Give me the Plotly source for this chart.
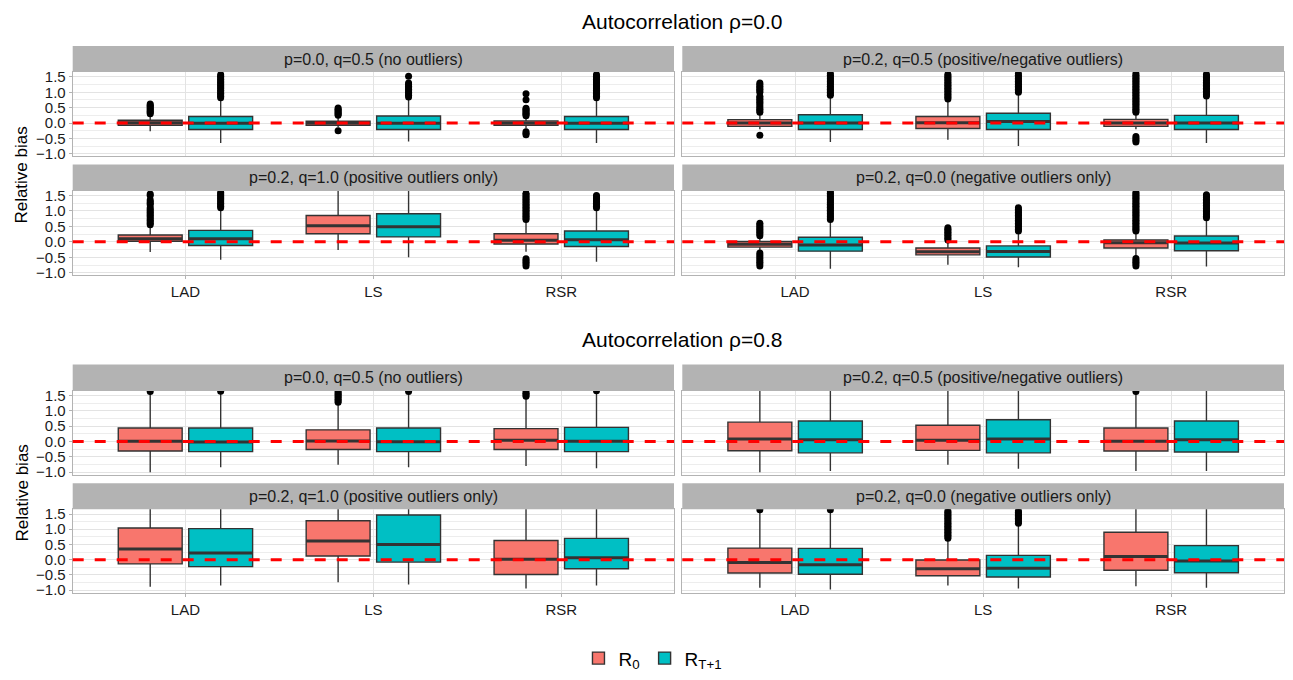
import plotly.graph_objects as go

# ---------------- data ----------------
methods = ["LAD", "LS", "RSR"]
group_titles = ["Autocorrelation ρ=0.0", "Autocorrelation ρ=0.8"]
panel_titles = ["p=0.0, q=0.5 (no outliers)",
                "p=0.2, q=0.5 (positive/negative outliers)",
                "p=0.2, q=1.0 (positive outliers only)",
                "p=0.2, q=0.0 (negative outliers only)"]
series_names = ["R<sub>0</sub>", "R<sub>T+1</sub>"]
series_colors = ["#F8766D", "#00BFC4"]
y_tick_vals = [-1.0, -0.5, 0.0, 0.5, 1.0, 1.5]
y_tick_text = ["\u22121.0", "\u22120.5", "0.0", "0.5", "1.0", "1.5"]

# rows: facets (rho=0.0: TL, TR, BL, BR; rho=0.8: TL, TR, BL, BR); cols: LAD, LS, RSR
r0_lower = [[-0.27, -0.14, -0.18], [-0.20, -0.54, -0.20], [-0.33, -0.26, -0.32], [-0.27, -0.74, -0.48],
            [-1.00, -0.76, -0.80], [-1.00, -0.76, -0.96], [-0.89, -0.74, -0.95], [-0.92, -0.85, -0.87]]
r0_q1 = [[-0.07, -0.07, -0.07], [-0.11, -0.18, -0.11], [0.02, 0.26, -0.07], [-0.17, -0.42, -0.20],
         [-0.31, -0.26, -0.26], [-0.30, -0.29, -0.31], [-0.14, 0.12, -0.49], [-0.44, -0.53, -0.35]]
r0_median = [[0.01, 0.00, 0.00], [0.00, 0.01, 0.00], [0.10, 0.52, 0.05], [-0.08, -0.32, -0.03],
             [0.01, 0.02, 0.04], [0.08, 0.04, 0.01], [0.35, 0.61, 0.01], [-0.09, -0.30, 0.10]]
r0_q3 = [[0.09, 0.06, 0.07], [0.11, 0.21, 0.12], [0.22, 0.85, 0.26], [0.01, -0.20, 0.06],
         [0.44, 0.38, 0.42], [0.63, 0.53, 0.44], [1.04, 1.28, 0.63], [0.38, -0.01, 0.90]]
r0_upper = [[0.22, 0.22, 0.20], [0.32, 0.75, 0.32], [0.52, 1.80, 0.70], [0.17, 0.02, 0.33],
            [1.55, 1.25, 1.45], [1.80, 1.80, 1.55], [1.80, 1.80, 1.80], [1.55, 0.69, 1.80]]

rt_lower = [[-0.65, -0.60, -0.65], [-0.62, -0.75, -0.65], [-0.58, -0.50, -0.64], [-0.87, -0.82, -0.80],
            [-0.84, -0.84, -0.87], [-0.96, -0.89, -0.96], [-0.85, -0.82, -0.85], [-0.98, -0.95, -0.92]]
rt_q1 = [[-0.21, -0.21, -0.21], [-0.21, -0.21, -0.21], [-0.12, 0.16, -0.15], [-0.30, -0.49, -0.29],
         [-0.33, -0.33, -0.33], [-0.37, -0.37, -0.34], [-0.23, -0.08, -0.30], [-0.48, -0.57, -0.43]]
rt_median = [[-0.01, -0.01, -0.01], [0.00, 0.05, 0.00], [0.10, 0.49, 0.07], [-0.10, -0.31, -0.04],
             [-0.02, -0.01, 0.01], [0.06, 0.08, 0.06], [0.22, 0.50, 0.06], [-0.17, -0.28, -0.04]]
rt_q3 = [[0.21, 0.23, 0.21], [0.27, 0.32, 0.25], [0.37, 0.91, 0.35], [0.15, -0.13, 0.19],
         [0.44, 0.44, 0.46], [0.67, 0.71, 0.67], [1.02, 1.47, 0.70], [0.37, 0.14, 0.46]]
rt_upper = [[0.80, 0.80, 0.80], [0.88, 0.98, 0.85], [1.05, 1.80, 1.05], [0.70, 0.33, 0.76],
            [1.60, 1.60, 1.60], [1.80, 1.80, 1.80], [1.80, 1.80, 1.80], [1.60, 1.17, 1.80]]

r0_outliers = [
    [[0.30, 0.34, 0.38, 0.42, 0.46, 0.50, 0.54, 0.58, 0.62],
     [-0.25, 0.25, 0.29, 0.33, 0.37, 0.41, 0.45, 0.49],
     [-0.38, -0.33, -0.28, 0.24, 0.28, 0.32, 0.36, 0.40, 0.44, 0.48, 0.76, 0.95]],
    [[-0.40, 0.35, 0.40, 0.45, 0.50, 0.55, 0.62, 0.67, 0.72, 0.77, 0.82, 0.87, 1.00, 1.05, 1.10, 1.15,
      1.20, 1.25, 1.30],
     [0.78, 0.83, 0.88, 0.93, 0.98, 1.03, 1.08, 1.13, 1.18, 1.23, 1.28, 1.33, 1.38, 1.43, 1.48, 1.53, 1.58],
     [-0.62, -0.56, -0.50, -0.44, 0.35, 0.40, 0.45, 0.50, 0.55, 0.60, 0.65, 0.70, 0.75, 0.80, 0.85, 0.90,
      0.95, 1.00, 1.05, 1.10, 1.15, 1.20, 1.25, 1.30, 1.35, 1.40, 1.45, 1.50, 1.55, 1.60]],
    [[0.55, 0.60, 0.65, 0.70, 0.75, 0.80, 0.85, 0.90, 0.95, 1.00, 1.05, 1.10, 1.20, 1.25, 1.30, 1.35,
      1.50, 1.55],
     [],
     [-0.78, -0.72, -0.66, -0.60, -0.55, 0.72, 0.77, 0.82, 0.87, 0.92, 0.97, 1.02, 1.07, 1.12, 1.17, 1.22,
      1.27, 1.32, 1.37, 1.42, 1.47, 1.52, 1.57]],
    [[-0.78, -0.72, -0.66, -0.60, -0.54, -0.48, -0.42, -0.36, 0.20, 0.25, 0.30, 0.35, 0.40, 0.45, 0.50,
      0.55, 0.60],
     [0.06, 0.11, 0.16, 0.21, 0.26, 0.31, 0.36, 0.41, 0.46],
     [-0.78, -0.72, -0.66, -0.60, -0.54, 0.35, 0.40, 0.45, 0.50, 0.55, 0.60, 0.65, 0.70, 0.75, 0.80, 0.85,
      0.90, 0.95, 1.00, 1.05, 1.10, 1.15, 1.20, 1.25, 1.30, 1.35, 1.40, 1.45, 1.50, 1.55, 1.60]],
    [[1.63],
     [1.28, 1.33, 1.38, 1.43, 1.48, 1.53, 1.58, 1.63],
     [1.47, 1.52, 1.57, 1.62]],
    [[], [], [1.63]],
    [[], [], []],
    [[1.64],
     [0.70, 0.75, 0.80, 0.85, 0.90, 0.95, 1.00, 1.05, 1.10, 1.15, 1.20, 1.25, 1.30, 1.35, 1.40, 1.45,
      1.50, 1.55, 1.60],
     []],
]
rt_outliers = [
    [[0.82, 0.87, 0.92, 0.97, 1.02, 1.07, 1.12, 1.17, 1.22, 1.27, 1.32, 1.37, 1.42, 1.47, 1.52, 1.57],
     [0.85, 0.90, 0.95, 1.00, 1.05, 1.10, 1.15, 1.20, 1.25, 1.30, 1.52],
     [0.82, 0.87, 0.92, 0.97, 1.02, 1.07, 1.12, 1.17, 1.22, 1.27, 1.32, 1.37, 1.42, 1.47, 1.52, 1.57]],
    [[0.90, 0.95, 1.00, 1.05, 1.10, 1.15, 1.20, 1.25, 1.30, 1.35, 1.40, 1.45, 1.50, 1.55, 1.60],
     [1.00, 1.05, 1.10, 1.15, 1.20, 1.25, 1.30, 1.35, 1.40, 1.45, 1.50, 1.55, 1.60],
     [0.88, 0.93, 0.98, 1.03, 1.08, 1.13, 1.18, 1.23, 1.28, 1.33, 1.38, 1.43, 1.48, 1.53, 1.58]],
    [[1.10, 1.15, 1.20, 1.25, 1.30, 1.35, 1.40, 1.45, 1.50, 1.55, 1.60],
     [],
     [1.10, 1.15, 1.20, 1.25, 1.30, 1.35, 1.40, 1.45, 1.50]],
    [[0.72, 0.77, 0.82, 0.87, 0.92, 0.97, 1.02, 1.07, 1.12, 1.17, 1.22, 1.27, 1.32, 1.37, 1.42, 1.47,
      1.52, 1.57, 1.62],
     [0.35, 0.40, 0.45, 0.50, 0.55, 0.60, 0.65, 0.70, 0.75, 0.80, 0.85, 0.90, 0.95, 1.00, 1.05, 1.10],
     [0.78, 0.83, 0.88, 0.93, 0.98, 1.03, 1.08, 1.13, 1.18, 1.23, 1.28, 1.33, 1.38, 1.43, 1.48, 1.52]],
    [[1.64], [1.63], [1.65]],
    [[], [], []],
    [[], [], []],
    [[1.64],
     [1.20, 1.25, 1.30, 1.35, 1.40, 1.45, 1.50, 1.55, 1.60],
     []],
]

# ---------------- layout geometry (pixels) ----------------
W, H = 1293, 680
col_px = [(72.7, 674.0), (682.3, 1284.0)]
row_plot_px = [(69.0, 154.5), (189.3, 275.3), (392.3, 477.7), (512.7, 597.3)]
strip_h = 26.3
dodge = [-0.1875, 0.1875]
box_w = 0.34
y_range = [-1.08, 1.66]
FONT = "Liberation Sans, Arial, Helvetica, sans-serif"

stats = [
    (r0_lower, r0_q1, r0_median, r0_q3, r0_upper, r0_outliers),
    (rt_lower, rt_q1, rt_median, rt_q3, rt_upper, rt_outliers),
]

fig = go.Figure()
shapes = []
annotations = []
layout_axes = {}

cat_pos = [i + 1 for i in range(len(methods))]

for k in range(8):
    g, r, c = k // 4, (k % 4) // 2, k % 2
    R = g * 2 + r
    n = k + 1
    xa = "x" if n == 1 else f"x{n}"
    ya = "y" if n == 1 else f"y{n}"
    x0p, x1p = col_px[c]
    y0p, y1p = row_plot_px[R]
    xdom = [x0p / W, x1p / W]
    ydom = [1 - y1p / H, 1 - y0p / H]
    bottom_row = (r == 1)
    left_col = (c == 0)

    layout_axes["xaxis" if n == 1 else f"xaxis{n}"] = dict(
        domain=xdom, anchor=ya, range=[0.4, 3.6], tickmode="array",
        tickvals=cat_pos, ticktext=methods,
        showticklabels=bottom_row, ticks="outside" if bottom_row else "",
        ticklen=3, tickcolor="#B3B3B3", tickwidth=1,
        showgrid=True, gridcolor="#E3E3E3", gridwidth=1,
        zeroline=False, showline=True, mirror=True, linecolor="#B3B3B3", linewidth=1,
        tickfont=dict(family=FONT, size=15, color="#1A1A1A"), fixedrange=True,
    )
    layout_axes["yaxis" if n == 1 else f"yaxis{n}"] = dict(
        domain=ydom, anchor=xa, range=y_range, tickmode="array",
        tickvals=y_tick_vals, ticktext=y_tick_text,
        showticklabels=left_col, ticks="outside" if left_col else "",
        ticklen=3, tickcolor="#B3B3B3", tickwidth=1,
        showgrid=True, gridcolor="#E3E3E3", gridwidth=1.1,
        minor=dict(tickvals=[-0.75, -0.25, 0.25, 0.75, 1.25], showgrid=True,
                   gridcolor="#EDEDED", gridwidth=0.8, ticks=""),
        zeroline=False, showline=True, mirror=True, linecolor="#B3B3B3", linewidth=1,
        tickfont=dict(family=FONT, size=15, color="#1A1A1A"), fixedrange=True,
    )

    # strip
    shapes.append(dict(type="rect", xref="paper", yref="paper",
                       x0=xdom[0], x1=xdom[1], y0=1 - y0p / H, y1=1 - (y0p - strip_h) / H,
                       fillcolor="#B3B3B3", line=dict(width=0), layer="below"))
    annotations.append(dict(text=panel_titles[k % 4], xref="paper", yref="paper",
                            x=(xdom[0] + xdom[1]) / 2, y=1 - (y0p - strip_h / 2) / H,
                            showarrow=False, xanchor="center", yanchor="middle",
                            font=dict(family=FONT, size=16, color="#1A1A1A")))

    for s in range(2):
        lo, q1, med, q3, hi, outl = stats[s]
        pos = [p + dodge[s] for p in cat_pos]
        fig.add_trace(go.Box(
            x=pos, q1=q1[k], median=med[k], q3=q3[k], lowerfence=lo[k], upperfence=hi[k],
            width=box_w, fillcolor=series_colors[s], line=dict(color="#333333", width=1.4),
            whiskerwidth=0, boxpoints=False, name=series_names[s], legendgroup=f"s{s}",
            showlegend=(k == 0), xaxis=xa, yaxis=ya, hoverinfo="skip",
        ))
        # thick median bars
        mx, my = [], []
        for p, m in zip(pos, med[k]):
            mx += [p - box_w / 2, p + box_w / 2, None]
            my += [m, m, None]
        fig.add_trace(go.Scatter(x=mx, y=my, mode="lines", line=dict(color="#333333", width=3),
                                 showlegend=False, xaxis=xa, yaxis=ya, hoverinfo="skip"))
        # outliers
        ox, oy = [], []
        for p, vals in zip(pos, outl[k]):
            ox += [p] * len(vals)
            oy += vals
        if oy:
            fig.add_trace(go.Scatter(x=ox, y=oy, mode="markers",
                                     marker=dict(color="black", size=7, line=dict(width=0)),
                                     showlegend=False, xaxis=xa, yaxis=ya, hoverinfo="skip"))

    # red dashed reference line at zero
    shapes.append(dict(type="line", xref=f"{xa} domain", yref=ya, x0=0, x1=1, y0=0, y1=0,
                       line=dict(color="#FF0000", width=3, dash="11px,11px"), layer="above"))

# group titles and y-axis titles
title_y_px = [18, 341]
ylab_center_px = [(69.0 + 275.3) / 2, (392.3 + 597.3) / 2]
for g in range(2):
    annotations.append(dict(text=group_titles[g], xref="paper", yref="paper",
                            x=(col_px[0][0] + col_px[1][1]) / 2 / W + 4 / W, y=1 - title_y_px[g] / H,
                            showarrow=False, xanchor="center", yanchor="middle",
                            font=dict(family=FONT, size=21, color="black")))
    annotations.append(dict(text="Relative bias", xref="paper", yref="paper",
                            x=22 / W, y=1 - (ylab_center_px[g] + 2) / H, textangle=-90,
                            showarrow=False, xanchor="center", yanchor="middle",
                            font=dict(family=FONT, size=17, color="black")))

fig.update_layout(
    width=W, height=H, margin=dict(l=0, r=0, t=0, b=0),
    paper_bgcolor="white", plot_bgcolor="white",
    boxmode="overlay", shapes=shapes, annotations=annotations,
    showlegend=True,
    legend=dict(orientation="h", x=0.505, xanchor="center", y=1 - 664 / H, yanchor="middle",
                font=dict(family=FONT, size=19, color="black"), itemwidth=30,
                bgcolor="rgba(0,0,0,0)", tracegroupgap=0),
    font=dict(family=FONT),
    **layout_axes,
)

fig.write_html("out.html", config={"displayModeBar": False},
               post_script="document.body.style.margin='0';document.body.style.padding='0';")
